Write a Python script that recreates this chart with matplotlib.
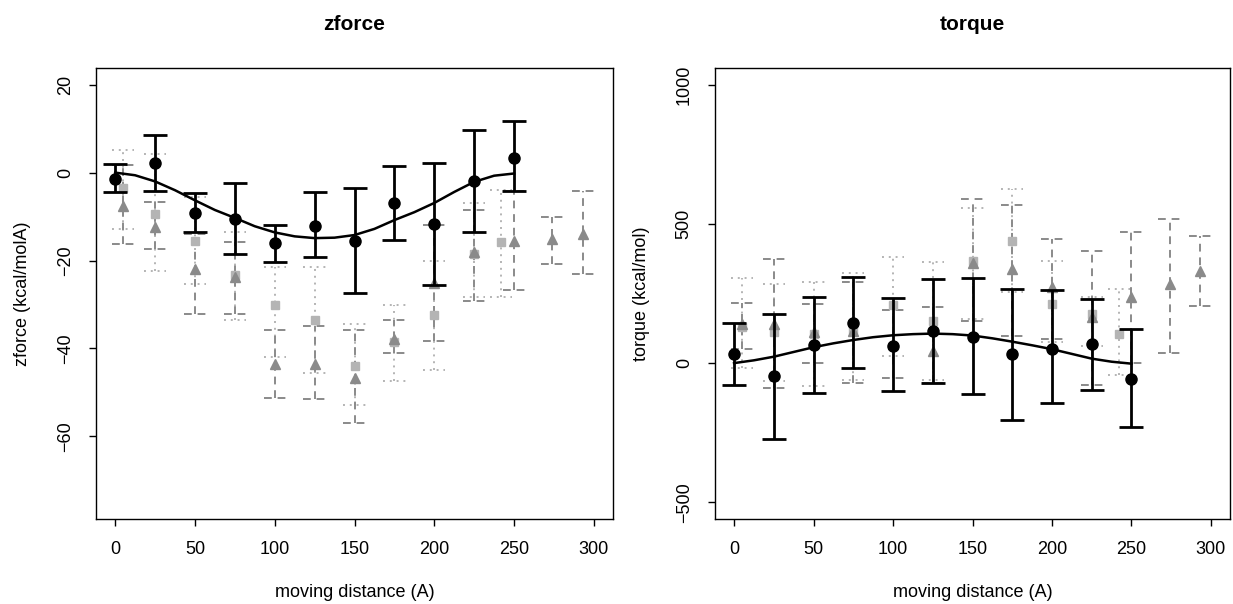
import numpy as np
import matplotlib
matplotlib.use("Agg")
import matplotlib.pyplot as plt

plt.rcParams['font.family'] = ['Liberation Sans', 'DejaVu Sans']

# x positions (moving distance, A)
bk_x = [0, 25, 50, 75, 100, 125, 150, 175, 200, 225, 250]
sq_x = [5, 25, 50, 75, 100, 125, 150, 175, 200, 225, 242]
tr_x = [5, 25, 50, 75, 100, 125, 150, 175, 200, 225, 250, 274, 293]
curve_x = [0, 12.5, 25, 37.5, 50, 62.5, 75, 87.5, 100, 112.5, 125, 137.5,
           150, 162.5, 175, 187.5, 200, 212.5, 225, 237.5, 250]

# zforce panel
zf_bk = [-1.4, 2.1, -9.3, -10.5, -16.0, -12.1, -15.5, -6.9, -11.7, -2.0, 3.3]
zf_bk_lo = [-4.3, -4.1, -13.4, -18.5, -20.3, -19.3, -27.3, -15.3, -25.5, -13.4, -4.1]
zf_bk_hi = [2.0, 8.6, -4.7, -2.3, -11.9, -4.4, -3.6, 1.6, 2.3, 9.8, 11.7]
zf_sq = [-3.6, -9.4, -15.5, -23.4, -30.1, -33.6, -43.9, -38.5, -32.5, -18.5, -15.8]
zf_sq_lo = [-12.8, -22.3, -25.3, -33.6, -42.0, -45.6, -52.8, -47.3, -45.0, -28.3, -28.3]
zf_sq_hi = [5.2, 4.2, -5.5, -13.6, -21.5, -21.5, -34.5, -30.2, -20.0, -6.8, -3.9]
zf_tr = [-7.5, -12.3, -22.0, -23.8, -43.5, -43.5, -46.7, -37.8, -25.0, -18.0, -15.5, -15.1, -13.9]
zf_tr_lo = [-16.2, -17.3, -32.1, -32.1, -51.3, -51.6, -57.0, -41.1, -38.2, -29.2, -26.8, -20.9, -23.0]
zf_tr_hi = [1.7, -6.7, -13.9, -15.8, -35.9, -34.8, -35.8, -33.6, -12.0, -8.5, -4.1, -10.2, -4.1]
zf_curve = [0.0, -0.6, -2.0, -4.0, -6.3, -8.5, -10.3, -12.2, -13.6, -14.5, -14.9, -14.8,
            -14.2, -12.8, -10.8, -9.0, -6.9, -4.4, -2.1, -0.7, -0.2]

# torque panel
tq_bk = [31, -48, 64, 145, 61, 115, 95, 31, 51, 67, -56]
tq_bk_lo = [-80, -272, -109, -17, -101, -71, -110, -203, -145, -95, -230]
tq_bk_hi = [145, 175, 238, 310, 233, 301, 307, 267, 263, 229, 121]
tq_sq = [130, 110, 105, 120, 210, 150, 368, 440, 212, 175, 103]
tq_sq_lo = [-17, -65, -83, -60, 25, -60, 160, 254, 75, 60, -41]
tq_sq_hi = [305, 284, 293, 322, 380, 362, 558, 627, 368, 236, 266]
tq_tr = [140, 140, 110, 115, 70, 45, 360, 338, 272, 164, 238, 284, 332]
tq_tr_lo = [49, -89, 1, -71, -53, -71, 150, 97, 85, -77, 1, 37, 206]
tq_tr_hi = [217, 374, 212, 290, 190, 203, 591, 567, 444, 404, 470, 519, 458]
tq_curve = [0, 10, 23, 40, 57, 71, 83, 93, 100, 104, 106, 104,
            99, 89, 77, 64, 50, 33, 16, 5, -2]

CAP = 7  # half width of gray error bar caps, in x units


def gray_bars(ax, x, y, lo, hi, color, ls, marker, ms):
    ax.vlines(x, lo, hi, colors=color, linestyles=ls, lw=1.4, zorder=2)
    x = np.asarray(x)
    ax.hlines(lo, x - CAP, x + CAP, colors=color, linestyles=ls, lw=1.4, zorder=2)
    ax.hlines(hi, x - CAP, x + CAP, colors=color, linestyles=ls, lw=1.4, zorder=2)
    ax.plot(x, y, linestyle='none', marker=marker, ms=ms, color=color,
            markeredgecolor=color, zorder=3)


def panel(ax, title, ylabel, bk, bk_lo, bk_hi, sq, sq_lo, sq_hi, tr, tr_lo, tr_hi,
          curve, ylim, yticks):
    gray_bars(ax, sq_x, sq, sq_lo, sq_hi, '#b4b4b4', (0, (1, 2.5)), 's', 6)
    gray_bars(ax, tr_x, tr, tr_lo, tr_hi, '#8a8a8a', (0, (4, 3)), '^', 7)
    bk = np.asarray(bk)
    err = [bk - np.asarray(bk_lo), np.asarray(bk_hi) - bk]
    ax.errorbar(bk_x, bk, yerr=err, fmt='o', color='black', ms=8, elinewidth=2,
                capsize=8.5, capthick=2, zorder=5)
    ax.plot(curve_x, curve, color='black', lw=1.8, zorder=4)

    r = ylim[1] - ylim[0]
    ax.set_ylim(ylim[0] - 0.04 * r, ylim[1] + 0.04 * r)
    ax.set_xlim(-12, 312)
    ax.set_xticks([0, 50, 100, 150, 200, 250, 300])
    ax.set_yticks(yticks)
    ax.tick_params(direction='out', length=5, width=1, labelsize=13, pad=11)
    for lab in ax.get_yticklabels():
        lab.set_rotation(90)
        lab.set_va('center')
    for s in ax.spines.values():
        s.set_linewidth(1)
    ax.text(0.5, 1.097, title, transform=ax.transAxes, ha='center', va='center',
            fontsize=15, fontweight='bold')
    ax.text(0.5, -0.164, 'moving distance (A)', transform=ax.transAxes,
            ha='center', va='center', fontsize=13)
    ax.text(-0.143, 0.5, ylabel, transform=ax.transAxes, rotation=90,
            ha='center', va='center', fontsize=13)


fig = plt.figure(figsize=(12.33, 6.04), dpi=100)
ax1 = fig.add_axes([96 / 1233, 1 - 519 / 604, 517 / 1233, 451 / 604])
ax2 = fig.add_axes([715 / 1233, 1 - 519 / 604, 515 / 1233, 451 / 604])

panel(ax1, 'zforce', 'zforce (kcal/molA)', zf_bk, zf_bk_lo, zf_bk_hi,
      zf_sq, zf_sq_lo, zf_sq_hi, zf_tr, zf_tr_lo, zf_tr_hi, zf_curve,
      (-75, 20), [20, 0, -20, -40, -60])
panel(ax2, 'torque', 'torque (kcal/mol)', tq_bk, tq_bk_lo, tq_bk_hi,
      tq_sq, tq_sq_lo, tq_sq_hi, tq_tr, tq_tr_lo, tq_tr_hi, tq_curve,
      (-500, 1000), [1000, 500, 0, -500])

fig.savefig('out.png', dpi=100)
